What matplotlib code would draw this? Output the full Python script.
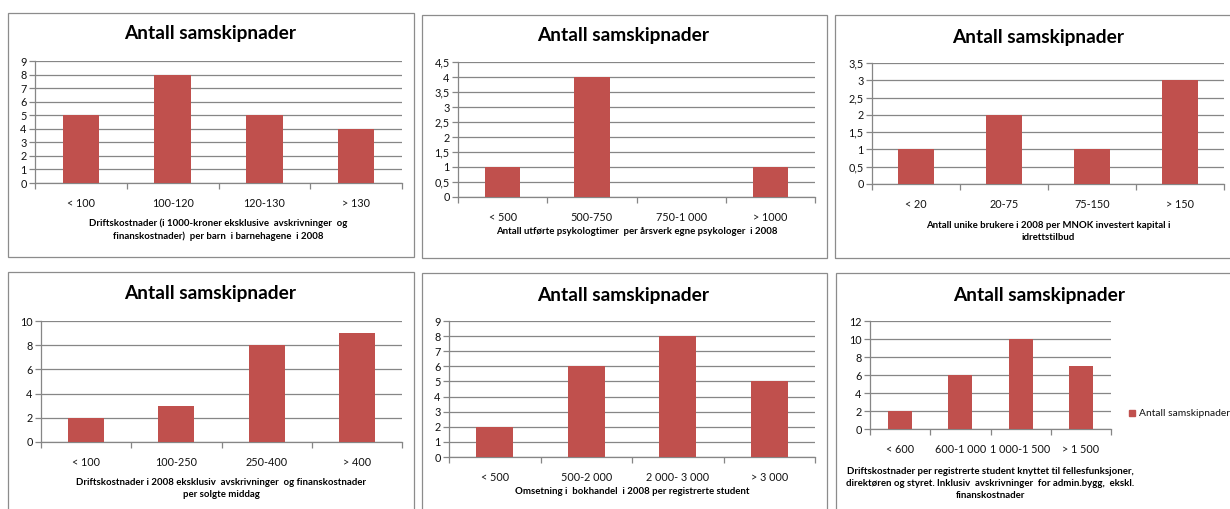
import matplotlib
matplotlib.use("Agg")
import matplotlib.pyplot as plt
from matplotlib.patches import Rectangle
from matplotlib.ticker import FuncFormatter

plt.rcParams['font.family'] = ['Lato', 'DejaVu Sans']

W, H = 1230, 509

title_text = "Antall samskipnader"
legend_label = "Antall samskipnader"

cats1 = ["< 100", "100-120", "120-130", "> 130"]
vals1 = [5, 8, 5, 4]
xlab1 = "Driftskostnader (i 1000-kroner eksklusive  avskrivninger  og\nfinanskostnader)  per barn  i barnehagene  i 2008"

cats2 = ["< 500", "500-750", "750-1 000", "> 1000"]
vals2 = [1, 4, 0, 1]
xlab2 = "Antall utførte psykologtimer  per årsverk egne psykologer  i 2008"

cats3 = ["< 20", "20-75", "75-150", "> 150"]
vals3 = [1, 2, 1, 3]
xlab3 = "Antall unike brukere i 2008 per MNOK investert kapital i\nidrettstilbud"

cats4 = ["< 100", "100-250", "250-400", "> 400"]
vals4 = [2, 3, 8, 9]
xlab4 = "Driftskostnader i 2008 eksklusiv  avskrivninger  og finanskostnader\nper solgte middag"

cats5 = ["< 500", "500-2 000", "2 000- 3 000", "> 3 000"]
vals5 = [2, 6, 8, 5]
xlab5 = "Omsetning i  bokhandel  i 2008 per registrerte student"

cats6 = ["< 600", "600-1 000", "1 000-1 500", "> 1 500"]
vals6 = [2, 6, 10, 7]
xlab6 = ("Driftskostnader per registrerte student knyttet til fellesfunksjoner,\n"
         "direktøren og styret. Inklusiv  avskrivninger  for admin.bygg,  ekskl.\n"
         "finanskostnader")

BAR = "#C0504D"
GRID = "#868686"

fig = plt.figure(figsize=(W / 100, H / 100), dpi=100)


def fx(x):
    return x / W


def fy(y):
    return 1 - y / H


def box(x0, y0, x1, y1):
    r = Rectangle((fx(x0), fy(y1)), fx(x1 - x0), (y1 - y0) / H,
                  transform=fig.transFigure, fill=False,
                  edgecolor="#8c8c8c", linewidth=0.9, zorder=0)
    fig.add_artist(r)


def fmt(v, _):
    s = ("%g" % v)
    return s.replace(".", ",")


def panel(frame, axbox, cats, vals, ymax, ystep, title_xy, xlab, xlab_y):
    box(*frame)
    x0, y0, x1, y1 = axbox
    ax = fig.add_axes([fx(x0), fy(y1), fx(x1 - x0), (y1 - y0) / H])
    xs = list(range(len(cats)))
    ax.bar(xs, vals, width=0.4, color=BAR, zorder=3)
    ax.set_xlim(-0.5, len(cats) - 0.5)
    ax.set_ylim(0, ymax)
    ticks = [i * ystep for i in range(int(round(ymax / ystep)) + 1)]
    ax.set_yticks(ticks)
    ax.yaxis.set_major_formatter(FuncFormatter(fmt))
    ax.yaxis.grid(True, color=GRID, linewidth=0.9, zorder=0)
    ax.set_xticks(xs)
    ax.set_xticklabels(cats)
    ax.set_xticks([i - 0.5 for i in range(len(cats) + 1)], minor=True)
    ax.tick_params(axis="x", which="major", length=0, pad=10.5,
                   labelsize=7.8, colors="#111111")
    ax.tick_params(axis="x", which="minor", length=4, color=GRID, width=0.9)
    ax.tick_params(axis="y", length=4, color=GRID, width=0.9, pad=2,
                   labelsize=7.8, labelcolor="#111111")
    for s in ("top", "right"):
        ax.spines[s].set_visible(False)
    ax.spines["left"].set_color(GRID)
    ax.spines["bottom"].set_color(GRID)
    ax.spines["left"].set_linewidth(0.9)
    ax.spines["bottom"].set_linewidth(0.9)
    ax.set_facecolor("none")
    tx, ty = title_xy
    fig.text(fx(tx), fy(ty), title_text, ha="center", va="center",
             fontsize=13.8, fontweight="bold", color="#000000")
    cx = (x0 + x1) / 2
    fig.text(fx(cx), fy(xlab_y), xlab, ha="center", va="top",
             fontsize=6.9, fontweight="bold", linespacing=1.4,
             color="#000000")
    return ax


panel((8, 13, 414, 257), (35, 61, 402, 183), cats1, vals1, 9, 1,
      (210, 33), xlab1, 218.5)
panel((422, 15, 827, 258), (458, 62, 815, 197), cats2, vals2, 4.5, 0.5,
      (623, 35), xlab2, 226.5)
panel((835, 15, 1236, 258), (872, 63, 1224, 184), cats3, vals3, 3.5, 0.5,
      (1038, 38), xlab3, 221)
panel((8, 272, 414, 515), (41, 321, 402, 442), cats4, vals4, 10, 2,
      (210, 294), xlab4, 478)
panel((422, 273, 827, 515), (449, 321, 815, 457), cats5, vals5, 9, 1,
      (623, 295), xlab5, 486.5)
ax6 = panel((836, 273, 1236, 515), (870, 321, 1111, 429), cats6, vals6, 12, 2,
            (1039, 296), xlab6, 467)

# legend in panel 6
fig.patches.append(Rectangle((fx(1129), fy(416)), fx(6), 6 / H,
                             transform=fig.transFigure, color=BAR))
fig.text(fx(1139), fy(413), legend_label, ha="left", va="center",
         fontsize=7.4, color="#111111")

fig.savefig("out.png", dpi=100, facecolor="white")
